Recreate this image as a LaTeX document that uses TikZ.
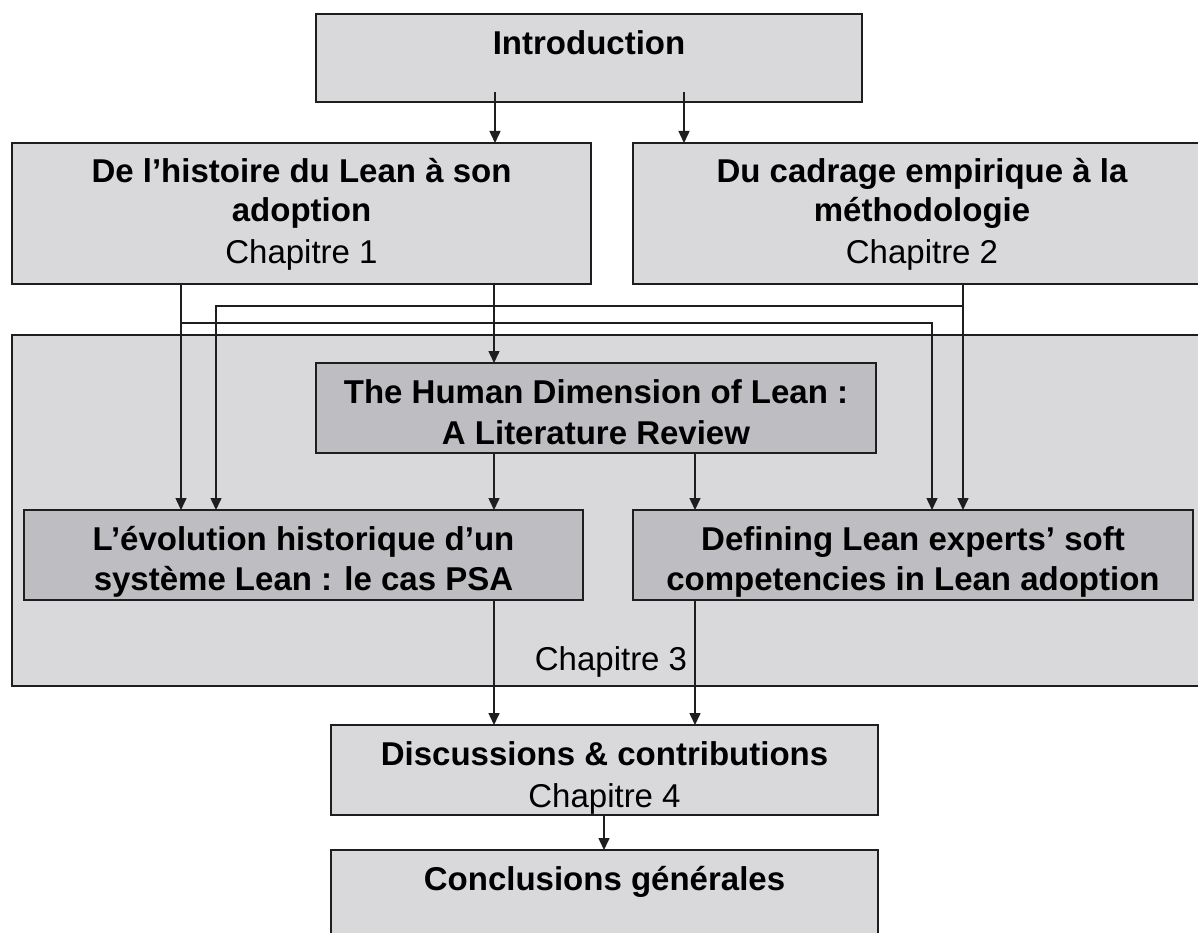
\documentclass[tikz,border=0pt]{standalone}
\usepackage{fontspec}
\setmainfont{Liberation Sans}
\usetikzlibrary{arrows.meta}
\definecolor{boxlight}{RGB}{217,217,220}
\definecolor{boxdark}{RGB}{190,190,194}
\definecolor{edgec}{RGB}{30,30,30}
\begin{document}
\begin{tikzpicture}[x=1pt,y=-1pt,
  boxbase/.style={draw=edgec,line width=1.8pt,inner sep=0pt,outer sep=0pt},
  lightbox/.style={boxbase,fill=boxlight},
  darkbox/.style={boxbase,fill=boxdark},
  bt/.style={font=\fontsize{33}{40}\selectfont\bfseries,anchor=base,inner sep=0pt},
  rt/.style={font=\fontsize{33}{40}\selectfont,anchor=base,inner sep=0pt},
  arr/.style={draw=edgec,line width=1.5pt,-{Triangle[length=12pt,width=11pt]}}]
\clip (0,0) rectangle (1198,933);
\fill[white] (0,0) rectangle (1198,933);
% boxes
\node[lightbox,minimum width=546pt,minimum height=88pt] (intro) at (589,58) {};
\node[lightbox,minimum width=579pt,minimum height=141pt] (ch1) at (301.5,213.5) {};
\node[lightbox,minimum width=578pt,minimum height=141pt] (ch2) at (922,213.5) {};
\node[lightbox,minimum width=1200pt,minimum height=351pt] (ch3) at (612,510.5) {};
\node[darkbox,minimum width=560pt,minimum height=90pt] (hum) at (596,408) {};
\node[darkbox,minimum width=559pt,minimum height=90pt] (evo) at (303.5,555) {};
\node[darkbox,minimum width=560pt,minimum height=90pt] (def) at (913,555) {};
\node[lightbox,minimum width=547pt,minimum height=90pt] (disc) at (604.5,770) {};
\node[lightbox,minimum width=547pt,minimum height=88pt] (concl) at (604.5,894) {};
% texts
\node[bt] (introT) at (589,55) {Introduction};
\node[bt] (ch1a) at (301.5,183) {De l’histoire du Lean à son};
\node[bt] (ch1b) at (301.5,222) {adoption};
\node[rt] (ch1c) at (301.5,263) {Chapitre 1};
\node[bt] (ch2a) at (922,183) {Du cadrage empirique à la};
\node[bt] (ch2b) at (922,222) {méthodologie};
\node[rt] (ch2c) at (922,263) {Chapitre 2};
\node[bt] (huma) at (596,403) {The Human Dimension of Lean :};
\node[bt] (humb) at (596,444) {A Literature Review};
\node[bt] (evoa) at (303.5,550) {L’évolution historique d’un};
\node[bt] (evob) at (303.5,590) {système Lean : le cas PSA};
\node[bt] (defa) at (913,550) {Defining Lean experts’ soft};
\node[bt] (defb) at (913,590) {competencies in Lean adoption};
\node[rt] (ch3T) at (611,670) {Chapitre 3};
\node[bt] (disca) at (604.5,765) {Discussions \& contributions};
\node[rt] (discb) at (604.5,807) {Chapitre 4};
\node[bt] (conclT) at (604.5,890) {Conclusions générales};
% guide coordinates
\coordinate (xa) at (181,0);
\coordinate (xb) at (216,0);
\coordinate (xc) at (494,0);
\coordinate (xd) at (695,0);
\coordinate (xe) at (932,0);
\coordinate (xf) at (963,0);
\coordinate (xg) at (604,0);
\coordinate (ya) at (0,306);
\coordinate (yb) at (0,323);
\coordinate (i1) at (495,92);
\coordinate (i2) at (684,92);
% connectors
\draw[arr] (i1) -- (i1 |- ch1.north);
\draw[arr] (i2) -- (i2 |- ch2.north);
\draw[arr] (ch1.south -| xa) -- (evo.north -| xa);
\draw[arr] (ch1.south -| xa) |- (yb -| xe) -- (def.north -| xe);
\draw[arr] (ch1.south -| xc) -- (hum.north -| xc);
\draw[arr] (ch2.south -| xf) -- (def.north -| xf);
\draw[arr] (ch2.south -| xf) |- (ya -| xb) -- (evo.north -| xb);
\draw[arr] (hum.south -| xc) -- (evo.north -| xc);
\draw[arr] (hum.south -| xd) -- (def.north -| xd);
\draw[arr] (evo.south -| xc) -- (disc.north -| xc);
\draw[arr] (def.south -| xd) -- (disc.north -| xd);
\draw[arr] (disc.south -| xg) -- (concl.north -| xg);
\end{tikzpicture}
\end{document}
